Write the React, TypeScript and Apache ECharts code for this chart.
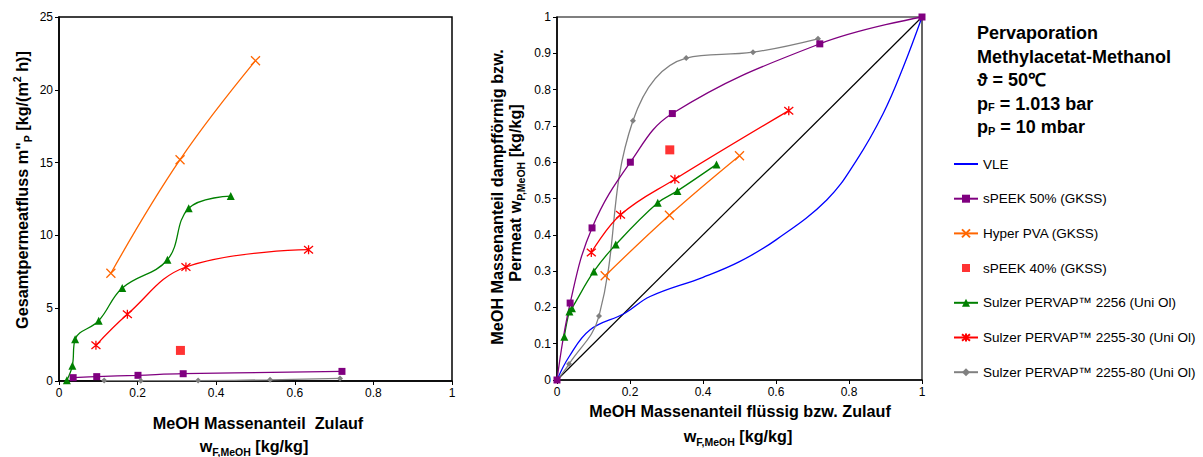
import React, { useEffect, useRef } from "react";
import * as echarts from "echarts";

// ---------- data ----------
const wSpeek50 = [0.036, 0.096, 0.201, 0.316, 0.72];
const fluxSpeek50 = [0.23, 0.3, 0.39, 0.5, 0.66];
const wSpeek50R = [0, 0.036, 0.096, 0.201, 0.316, 0.72, 1];
const ySpeek50 = [0, 0.212, 0.419, 0.6, 0.734, 0.926, 1];

const wPva = [0.132, 0.308, 0.5];
const fluxPva = [7.4, 15.2, 22.0];
const yPva = [0.287, 0.454, 0.618];

const wSpeek40 = [0.309];
const fluxSpeek40 = [2.1];
const ySpeek40 = [0.634];

const w2256 = [0.02, 0.034, 0.041, 0.101, 0.161, 0.276, 0.33, 0.437];
const flux2256 = [0.05, 1.05, 2.86, 4.14, 6.39, 8.33, 11.86, 12.7];
const y2256 = [0.119, 0.189, 0.198, 0.299, 0.373, 0.488, 0.521, 0.594];

const w225530 = [0.094, 0.174, 0.323, 0.635];
const flux225530 = [2.45, 4.58, 7.83, 9.02];
const y225530 = [0.351, 0.455, 0.553, 0.742];

const w225580 = [0.115, 0.208, 0.354, 0.537, 0.715];
const flux225580 = [0.03, 0.02, 0.03, 0.08, 0.18];
const w225580R = [0, 0.033, 0.115, 0.208, 0.354, 0.537, 0.715];
const y225580 = [0, 0.044, 0.176, 0.714, 0.887, 0.903, 0.94];

const wVle = [0, 0.033, 0.09, 0.186, 0.255, 0.4, 0.5, 0.6, 0.739, 0.821, 0.894, 0.949, 1];
const yVle = [0, 0.064, 0.138, 0.184, 0.23, 0.283, 0.326, 0.386, 0.496, 0.606, 0.735, 0.863, 1];

const wDiag = [0, 1];
const yDiag = [0, 1];

const names = [
  "VLE",
  "sPEEK 50% (GKSS)",
  "Hyper PVA (GKSS)",
  "sPEEK 40% (GKSS)",
  "Sulzer PERVAP™ 2256 (Uni Ol)",
  "Sulzer PERVAP™ 2255-30 (Uni Ol)",
  "Sulzer PERVAP™ 2255-80 (Uni Ol)",
];

const titleLines = [
  "Pervaporation",
  "Methylacetat-Methanol",
  "ϑ = 50℃",
  "p{sub|F} = 1.013 bar",
  "p{sub|P} = 10 mbar",
];

const pair = (xs: number[], ys: number[]) => xs.map((x, i) => [x, ys[i]]);

const FONT = '"Liberation Sans", Arial, Helvetica, sans-serif';
const CROSS = "path://M0,0L10,10M10,0L0,10";
const STAR = "path://M0,0L10,10M10,0L0,10M5,-1L5,11";
// small square inside an invisible 24x10 box (for the legend)
const SMALL_SQUARE = "path://M0,0L0.01,0.01M24,10L23.99,9.99M8,1H16V9H8Z";

const TS = 16.2;
const subRich = {
  n: { fontSize: TS, fontWeight: "bold", fontFamily: FONT, lineHeight: 22, verticalAlign: "middle", fill: "#000" },
  sub: { fontSize: 10.5, fontWeight: "bold", fontFamily: FONT, lineHeight: 8, verticalAlign: "bottom", fill: "#000" },
  sup: { fontSize: 10.5, fontWeight: "bold", fontFamily: FONT, lineHeight: 8, verticalAlign: "top", fill: "#000" },
};

export default function App() {
  const ref = useRef<HTMLDivElement>(null);
  useEffect(() => {
    document.body.style.margin = "0";
    const chart = echarts.init(ref.current!, undefined, { renderer: "svg" });

    const axisCommon = {
      axisLine: { show: true, lineStyle: { color: "#000", width: 1.5 } },
      axisTick: { show: true, inside: false, length: 4, lineStyle: { color: "#000" } },
      splitLine: { show: false },
      axisLabel: { color: "#000", fontSize: 12, fontFamily: FONT, margin: 6 },
    };

    const lineSeries = (
      name: string,
      data: number[][],
      idx: number,
      color: string,
      symbol: string,
      size: number,
      extra: any = {}
    ) => ({
      name,
      type: "line",
      xAxisIndex: idx,
      yAxisIndex: idx,
      data,
      smooth: 0.4,
      symbol,
      symbolSize: size,
      lineStyle: { color, width: 1.3 },
      itemStyle: { color, borderColor: color, borderWidth: symbol.startsWith("path") ? 1.3 : 0 },
      z: 3,
      ...extra,
    });

    const titleGraphics = titleLines.map((t, i) => ({
      type: "text",
      x: 977,
      y: 33 + i * 23.5,
      style: {
        text: t,
        font: `bold 18px ${FONT}`,
        fill: "#000",
        verticalAlign: "middle",
        rich: {
          sub: { fontSize: 11, fontWeight: "bold", fontFamily: FONT, verticalAlign: "bottom", lineHeight: 8 },
        },
      },
    }));

    const option: any = {
      animation: false,
      backgroundColor: "#fff",
      grid: [
        { left: 59, top: 17, width: 393, height: 364, show: true, borderColor: "#000", borderWidth: 1.5, backgroundColor: "transparent" },
        { left: 557, top: 17, width: 365, height: 363, show: true, borderColor: "#000", borderWidth: 1.2, backgroundColor: "transparent" },
      ],
      xAxis: [
        { ...axisCommon, type: "value", gridIndex: 0, min: 0, max: 1, interval: 0.2 },
        { ...axisCommon, type: "value", gridIndex: 1, min: 0, max: 1, interval: 0.2 },
      ],
      yAxis: [
        { ...axisCommon, type: "value", gridIndex: 0, min: 0, max: 25, interval: 5 },
        { ...axisCommon, type: "value", gridIndex: 1, min: 0, max: 1, interval: 0.1 },
      ],
      legend: {
        orient: "vertical",
        left: 953,
        top: 157,
        padding: 0,
        itemWidth: 24,
        itemHeight: 10,
        itemGap: 20.7,
        textStyle: { color: "#000", fontSize: 13.5, fontFamily: FONT },
        data: [
          { name: names[0], itemStyle: { opacity: 0 } },
          names[1],
          names[2],
          { name: names[3], icon: SMALL_SQUARE },
          names[4],
          names[5],
          names[6],
        ],
      },
      series: [
        // left chart
        lineSeries(names[1], pair(wSpeek50, fluxSpeek50), 0, "#800080", "rect", 7),
        lineSeries(names[2], pair(wPva, fluxPva), 0, "#FF6600", CROSS, 9),
        { name: names[3], type: "scatter", xAxisIndex: 0, yAxisIndex: 0, data: pair(wSpeek40, fluxSpeek40), symbol: "rect", symbolSize: 9, itemStyle: { color: "#FF0000" } },
        lineSeries(names[4], pair(w2256, flux2256), 0, "#008000", "triangle", 8),
        lineSeries(names[5], pair(w225530, flux225530), 0, "#FF0000", STAR, 9),
        lineSeries(names[6], pair(w225580, flux225580), 0, "#808080", "diamond", 6),
        // right chart
        { name: "diag", type: "line", xAxisIndex: 1, yAxisIndex: 1, data: pair(wDiag, yDiag), symbol: "none", lineStyle: { color: "#000", width: 1.2 }, z: 2 },
        { name: names[0], type: "line", xAxisIndex: 1, yAxisIndex: 1, data: pair(wVle, yVle), smooth: 0.4, symbol: "none", lineStyle: { color: "#0000FF", width: 1.3 }, itemStyle: { color: "#0000FF" }, z: 2 },
        lineSeries(names[6], pair(w225580R, y225580), 1, "#808080", "diamond", 6),
        lineSeries(names[2], pair(wPva, yPva), 1, "#FF6600", CROSS, 9),
        { name: names[3], type: "scatter", xAxisIndex: 1, yAxisIndex: 1, data: pair(wSpeek40, ySpeek40), symbol: "rect", symbolSize: 9, itemStyle: { color: "#FF0000" } },
        lineSeries(names[4], pair(w2256, y2256), 1, "#008000", "triangle", 8),
        lineSeries(names[5], pair(w225530, y225530), 1, "#FF0000", STAR, 9),
        lineSeries(names[1], pair(wSpeek50R, ySpeek50), 1, "#800080", "rect", 7),
      ],
      graphic: [
        ...titleGraphics,
        {
          type: "text",
          x: 22,
          y: 190,
          rotation: Math.PI / 2,
          style: {
            text: '{n|Gesamtpermeatfluss m"}{sub|P}{n| [kg/(m}{sup|2}{n| h)]}',
            align: "center",
            verticalAlign: "middle",
            rich: subRich,
          },
        },
        {
          type: "text",
          x: 497,
          y: 197,
          rotation: Math.PI / 2,
          style: {
            text: "{n|MeOH Massenanteil dampfförmig bzw.}",
            align: "center",
            verticalAlign: "middle",
            rich: subRich,
          },
        },
        {
          type: "text",
          x: 515,
          y: 193,
          rotation: Math.PI / 2,
          style: {
            text: "{n|Permeat w}{sub|P,MeOH}{n| [kg/kg]}",
            align: "center",
            verticalAlign: "middle",
            rich: subRich,
          },
        },
        {
          type: "text",
          x: 258,
          y: 423,
          style: { text: "{n|MeOH Massenanteil  Zulauf}", align: "center", verticalAlign: "middle", rich: subRich },
        },
        {
          type: "text",
          x: 254,
          y: 446,
          style: { text: "{n|w}{sub|F,MeOH}{n| [kg/kg]}", align: "center", verticalAlign: "middle", rich: subRich },
        },
        {
          type: "text",
          x: 740,
          y: 411,
          style: { text: "{n|MeOH Massenanteil flüssig bzw. Zulauf}", align: "center", verticalAlign: "middle", rich: subRich },
        },
        {
          type: "text",
          x: 738,
          y: 436,
          style: { text: "{n|w}{sub|F,MeOH}{n| [kg/kg]}", align: "center", verticalAlign: "middle", rich: subRich },
        },
      ],
    };
    chart.setOption(option);
    return () => chart.dispose();
  }, []);
  return <div ref={ref} style={{ width: 1203, height: 457, position: "absolute", left: 0, top: 0 }} />;
}
